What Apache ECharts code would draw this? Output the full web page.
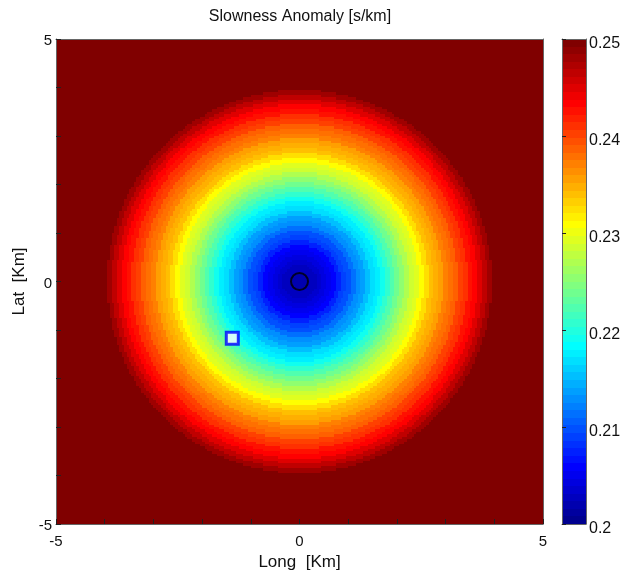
<!DOCTYPE html>
<html>
<head>
<meta charset="utf-8">
<title>Slowness Anomaly</title>
<script src="https://cdn.jsdelivr.net/npm/echarts@6/dist/echarts.min.js"></script>
<style>
  html, body { margin: 0; padding: 0; background: #fff; }
  #chart { width: 633px; height: 572px; }
</style>
</head>
<body>
<div id="chart"></div>
<script>
// Radial slowness profile of the anomaly (km from the source, s/km)
const profileRadiusKm = [
  0.0, 0.1, 0.2, 0.3, 0.4, 0.5, 0.6, 0.7, 0.8, 0.9,
  1.0, 1.1, 1.2, 1.3, 1.4, 1.5, 1.6, 1.7, 1.8, 1.9,
  2.0, 2.1, 2.2, 2.3, 2.4, 2.5, 2.6, 2.7, 2.8, 2.9,
  3.0, 3.1, 3.2, 3.3, 3.4, 3.5, 3.6, 3.7, 3.8, 3.9, 4.0
];
const profileSlowness = [
  0.2020, 0.2021, 0.2024, 0.2028, 0.2033, 0.2040, 0.2050, 0.2062, 0.2074, 0.2086,
  0.2098, 0.2112, 0.2126, 0.2140, 0.2153, 0.2166, 0.2178, 0.2190, 0.2204, 0.2220,
  0.2237, 0.2253, 0.2268, 0.2282, 0.2295, 0.2310, 0.2323, 0.2336, 0.2348, 0.2359,
  0.2369, 0.2379, 0.2389, 0.2400, 0.2411, 0.2423, 0.2436, 0.2450, 0.2465, 0.2480, 0.2495
];
const profileStepKm = 0.1;
const backgroundSlowness = 0.25;

// Model grid cell centres (km), 0.05 km cells
const cellSizeKm = 0.05;
const cellCentresKm = [];
for (let i = 0; i < 200; i++) cellCentresKm.push(+(-5 + cellSizeKm * (i + 0.5)).toFixed(3));

// Source and station positions [long, lat] (km)
const sourceLonLat = [0, 0];
const stationLonLat = [-1.38, -1.17];

// Axis ranges and labelled ticks
const axisMin = -5, axisMax = 5, axisStep = 1;
const labelledTicks = [-5, 0, 5];
const colorMin = 0.2, colorMax = 0.25, colorStep = 0.01;

// MATLAB-style jet colormap
function jetMap(m) {
  const n = Math.ceil(m / 4);
  const u = [];
  for (let i = 1; i <= n; i++) u.push(i / n);
  for (let i = 1; i < n; i++) u.push(1);
  for (let i = n; i >= 1; i--) u.push(i / n);
  const gOff = Math.ceil(n / 2) - (m % 4 === 1 ? 1 : 0);
  const R = new Array(m).fill(0), G = new Array(m).fill(0), B = new Array(m).fill(0);
  for (let k = 0; k < u.length; k++) {
    const g = gOff + k + 1, r = g + n, b = g - n;
    if (g >= 1 && g <= m) G[g - 1] = u[k];
    if (r >= 1 && r <= m) R[r - 1] = u[k];
    if (b >= 1 && b <= m) B[b - 1] = u[k];
  }
  const out = [];
  for (let k = 0; k < m; k++) {
    out.push('rgb(' + Math.round(R[k] * 255) + ',' + Math.round(G[k] * 255) + ',' + Math.round(B[k] * 255) + ')');
  }
  return out;
}
const JET = jetMap(64);
function colorFor(v) {
  let idx = Math.floor((v - colorMin) / (colorMax - colorMin) * JET.length);
  idx = Math.max(0, Math.min(JET.length - 1, idx));
  return JET[idx];
}

// Slowness at each grid cell, looked up from the radial profile
const fieldData = [];
for (const x of cellCentresKm) {
  for (const y of cellCentresKm) {
    const dx = x - sourceLonLat[0], dy = y - sourceLonLat[1];
    const r = Math.sqrt(dx * dx + dy * dy);
    const k = Math.round(r / profileStepKm);
    const v = k < profileSlowness.length ? profileSlowness[k] : backgroundSlowness;
    fieldData.push([x, y, v]);
  }
}

// Colour-bar levels
const barData = [];
for (let k = 0; k < JET.length; k++) {
  const lo = colorMin + (colorMax - colorMin) * k / JET.length;
  const hi = colorMin + (colorMax - colorMin) * (k + 1) / JET.length;
  barData.push([lo, hi, k]);
}

const FONT = 'Liberation Sans, Arial, Helvetica, sans-serif';
const frameColor = '#666';
const tickColor = '#222';
const textColor = '#111';

const chart = echarts.init(document.getElementById('chart'), null, { renderer: 'canvas' });

const frameAxis = (extra) => Object.assign({
  type: 'value', min: axisMin, max: axisMax, interval: axisStep, z: 6,
  axisLine: { show: true, onZero: false, lineStyle: { color: frameColor, width: 1 } },
  axisTick: { show: false }, axisLabel: { show: false }, splitLine: { show: false }
}, extra);

const barAxis = (extra) => Object.assign({
  type: 'value', gridIndex: 1, z: 6,
  axisLine: { show: true, onZero: false, lineStyle: { color: frameColor } },
  axisTick: { show: false }, axisLabel: { show: false }, splitLine: { show: false }
}, extra);

// Pixel-snapped rectangle between two data corners
function snappedRect(pA, pB) {
  const x0 = Math.round(Math.min(pA[0], pB[0])), x1 = Math.round(Math.max(pA[0], pB[0]));
  const y0 = Math.round(Math.min(pA[1], pB[1])), y1 = Math.round(Math.max(pA[1], pB[1]));
  return { x: x0, y: y0, width: x1 - x0, height: y1 - y0 };
}

chart.setOption({
  animation: false,
  backgroundColor: '#fff',
  graphic: [{
    type: 'text', x: 300, y: 17, z: 10,
    style: {
      text: 'Slowness Anomaly [s/km]', font: '16px ' + FONT, fill: textColor,
      textAlign: 'center', textVerticalAlign: 'middle'
    }
  }],
  grid: [
    { left: 56, top: 39, width: 487, height: 485, outerBoundsMode: 'none', containLabel: false },
    { left: 562, top: 39, width: 24, height: 485, outerBoundsMode: 'none', containLabel: false }
  ],
  xAxis: [
    frameAxis({
      gridIndex: 0, position: 'bottom',
      axisTick: { show: true, inside: true, length: 5, lineStyle: { color: tickColor } },
      axisLabel: {
        show: true, margin: 10, color: textColor, fontSize: 15, fontFamily: FONT,
        formatter: v => labelledTicks.includes(v) ? String(v) : ''
      },
      name: 'Long  [Km]', nameLocation: 'middle', nameGap: 30,
      nameTextStyle: { color: textColor, fontSize: 17, fontFamily: FONT }
    }),
    frameAxis({ gridIndex: 0, position: 'top' }),
    barAxis({ min: 0, max: 1, position: 'bottom' }),
    barAxis({ min: 0, max: 1, position: 'top' })
  ],
  yAxis: [
    frameAxis({
      gridIndex: 0, position: 'left',
      axisTick: { show: true, inside: true, length: 5, lineStyle: { color: tickColor } },
      axisLabel: {
        show: true, margin: 4,
        formatter: v => labelledTicks.includes(v) ? '{t|' + v + '}' : '',
        rich: { t: { color: textColor, fontSize: 15, fontFamily: FONT, padding: [4, 0, 0, 0] } }
      },
      name: 'Lat  [Km]', nameLocation: 'middle', nameGap: 15,
      nameTextStyle: { color: textColor, fontSize: 17, fontFamily: FONT }
    }),
    frameAxis({ gridIndex: 0, position: 'right' }),
    barAxis({
      min: colorMin, max: colorMax, interval: colorStep, position: 'right',
      axisLabel: {
        show: true, margin: 3,
        formatter: v => '{c|' + parseFloat(v.toFixed(2)) + '}',
        rich: { c: { color: textColor, fontSize: 16, fontFamily: FONT, padding: [9, 0, 0, 0] } }
      }
    }),
    barAxis({
      min: colorMin, max: colorMax, interval: colorStep, position: 'left',
      axisTick: { show: true, inside: true, length: 4, lineStyle: { color: tickColor } }
    })
  ],
  series: [
    {
      type: 'custom', name: 'slowness', xAxisIndex: 0, yAxisIndex: 0,
      clip: true, silent: true, progressive: 0, progressiveThreshold: 1e9,
      encode: { x: 0, y: 1 },
      data: fieldData,
      renderItem: (params, api) => {
        const x = api.value(0), y = api.value(1);
        const half = cellSizeKm / 2;
        return {
          type: 'rect',
          shape: snappedRect(api.coord([x - half, y + half]), api.coord([x + half, y - half])),
          style: { fill: colorFor(api.value(2)) }
        };
      }
    },
    {
      type: 'custom', name: 'colorbar', xAxisIndex: 2, yAxisIndex: 2,
      silent: true, clip: true, progressive: 0,
      encode: { y: [0, 1] },
      data: barData,
      renderItem: (params, api) => {
        return {
          type: 'rect',
          shape: snappedRect(api.coord([0, api.value(0)]), api.coord([1, api.value(1)])),
          style: { fill: JET[api.value(2)] }
        };
      }
    },
    {
      type: 'scatter', name: 'source', xAxisIndex: 0, yAxisIndex: 0, z: 5, silent: true,
      symbol: 'circle', symbolSize: 17,
      itemStyle: { color: 'rgba(0,0,0,0)', borderColor: '#000', borderWidth: 2 },
      data: [sourceLonLat]
    },
    {
      type: 'scatter', name: 'station', xAxisIndex: 0, yAxisIndex: 0, z: 5, silent: true,
      symbol: 'rect', symbolSize: 12,
      itemStyle: { color: '#fff', borderColor: '#0000ff', borderWidth: 3 },
      data: [stationLonLat]
    }
  ]
});
</script>
</body>
</html>
